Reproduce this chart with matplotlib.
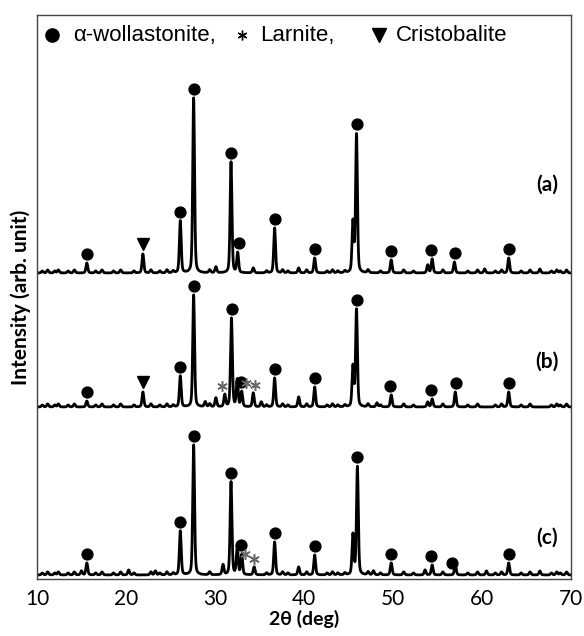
import numpy as np
import matplotlib
matplotlib.use("Agg")
import matplotlib.pyplot as plt

# XRD patterns: peak position (2theta, deg) and height (arb. unit)
pos_a = [15.6, 21.9, 26.1, 27.6, 30.1, 31.8, 32.55, 34.3, 36.7, 39.4, 41.2, 45.5, 45.9,
         49.8, 53.9, 54.4, 56.9, 60.3, 63.0, 66.5]
hgt_a = [10, 19, 52, 175, 6, 111, 20, 5, 45, 5, 15, 50, 138,
         13, 8, 14, 11, 4, 15, 4]

pos_b = [15.6, 21.9, 26.1, 27.6, 28.9, 30.1, 31.1, 31.85, 32.5, 33.0, 34.3, 35.2, 36.7,
         39.4, 41.2, 45.5, 45.9, 48.2, 49.8, 53.9, 54.4, 57.0, 63.0]
hgt_b = [6, 15, 31, 112, 5, 9, 12, 89, 27, 15, 14, 5, 29,
         10, 20, 40, 97, 4, 12, 5, 8, 15, 15]

pos_c = [15.0, 15.6, 20.3, 23.3, 26.1, 27.6, 30.9, 31.8, 32.5, 33.0, 34.4, 36.7, 39.4,
         41.2, 45.5, 46.0, 47.8, 49.8, 53.6, 54.4, 57.0, 60.5, 63.0, 66.5]
hgt_c = [4, 12, 5, 4, 44, 130, 10, 93, 28, 20, 8, 33, 8,
         20, 40, 108, 4, 12, 5, 10, 10, 4, 12, 4]

# small baseline bumps (shared by all three scans)
bump_pos = [10.6, 11.2, 12.0, 12.4, 13.5, 14.2, 16.6, 17.3, 18.6, 19.4, 20.9, 22.8,
            23.8, 24.6, 25.3, 29.4, 35.8, 37.6, 38.2, 40.3, 42.6, 43.2, 43.8, 44.6,
            47.2, 48.6, 51.2, 52.3, 55.6, 58.4, 59.5, 61.5, 62.2, 64.4, 65.4, 67.8,
            68.4, 68.8, 69.5]
bump_hgt = [2, 3, 2, 3, 2, 3, 2, 3, 2, 3, 2, 3,
            2, 3, 2, 3, 2, 3, 2, 3, 2, 3, 2, 2,
            3, 2, 3, 2, 3, 2, 3, 2, 3, 2, 3, 2,
            3, 2, 3]

offsets = [306, 172, 4]
labels = ["(a)", "(b)", "(c)"]
label_dy = [88, 45, 37]

# phase markers (2theta)
wol_a = [15.6, 26.1, 27.6, 31.8, 32.7, 36.7, 41.2, 45.9, 49.8, 54.3, 57.0, 63.0]
wol_b = [15.6, 26.1, 27.6, 31.9, 32.9, 36.7, 41.2, 45.9, 49.7, 54.3, 57.1, 63.0]
wol_c = [15.6, 26.1, 27.6, 31.8, 32.9, 36.7, 41.2, 46.0, 49.8, 54.3, 56.6, 63.0]
cri_a = [21.9]
cri_b = [21.9]
cri_c = []
lar_a = []
lar_b = [30.8, 33.5, 34.5]
lar_c = [33.4, 34.4]
lar_win = [0.3, 0.5, 0.3]


def pattern(x, pos, hgt, fwhm=0.24, eta=0.35):
    y = np.zeros_like(x)
    for p, h in zip(list(pos) + bump_pos, list(hgt) + bump_hgt):
        d = (x - p) / (fwhm / 2)
        y += h * (eta / (1 + d ** 2) + (1 - eta) * np.exp(-np.log(2) * d ** 2))
    return y


x = np.linspace(10, 70, 3001)

fig = plt.figure(figsize=(5.84, 6.36), dpi=100)
ax = fig.add_axes([37 / 584, 1 - 579 / 636, 534 / 584, 564 / 636])

scans = [(pos_a, hgt_a, wol_a, cri_a, lar_a),
         (pos_b, hgt_b, wol_b, cri_b, lar_b),
         (pos_c, hgt_c, wol_c, cri_c, lar_c)]

for (pos, hgt, wol, cri, lar), off, lab, dy, lw_ in zip(scans, offsets, labels,
                                                        label_dy, lar_win):
    y = pattern(x, pos, hgt) + off
    ax.plot(x, y, color="black", lw=2.0, solid_joinstyle="round")

    def top(px, w=0.25):
        m = np.abs(x - px) <= w
        return y[m].max()

    ax.plot(wol, [top(p) + 9 for p in wol], "o", color="black", ms=7.8, ls="none")
    if cri:
        ax.plot(cri, [top(p) + 10 for p in cri], "v", color="black", ms=9, ls="none")
    if lar:
        ax.plot(lar, [top(p, lw_) + 8 for p in lar], marker=(6, 2, 0), color="#666666",
                mec="#666666", mew=1.1, ms=7.5, ls="none")
    ax.text(67.3, off + dy, lab, fontsize=15, fontweight="bold", family="Lato",
            ha="center", va="center")

# legend line at the top
ly = 0.9645
ax.plot([0.028], [ly], "o", color="black", ms=9.5, transform=ax.transAxes, clip_on=False)
ax.text(0.0674, ly, "\u03b1-wollastonite,", transform=ax.transAxes, fontsize=16,
        family="Liberation Sans", va="center", ha="left")
ax.plot([0.384], [ly], marker=(6, 2, 0), color="black", mec="black", mew=1.0, ms=7,
        transform=ax.transAxes)
ax.text(0.4176, ly, "Larnite,", transform=ax.transAxes, fontsize=16,
        family="Liberation Sans", va="center", ha="left")
ax.plot([0.640], [ly], "v", color="black", ms=9.5, transform=ax.transAxes)
ax.text(0.672, ly, "Cristobalite", transform=ax.transAxes, fontsize=16,
        family="Liberation Sans", va="center", ha="left")

ax.set_xlim(10, 70)
ax.set_ylim(0, 564)
ax.set_xticks([10, 20, 30, 40, 50, 60, 70])
ax.set_yticks([])
ax.tick_params(axis="x", length=0, pad=7, labelsize=15)
for t in ax.get_xticklabels():
    t.set_family("Lato")
for s in ax.spines.values():
    s.set_color("#444444")
    s.set_linewidth(1.0)

ax.set_xlabel("2\u03b8 (deg)", fontsize=14, fontweight="bold", family="Lato", labelpad=1)
ax.set_ylabel("Intensity (arb. unit)", fontsize=15, fontweight="bold", family="Lato",
              labelpad=4)

fig.savefig("out.png", dpi=100)
